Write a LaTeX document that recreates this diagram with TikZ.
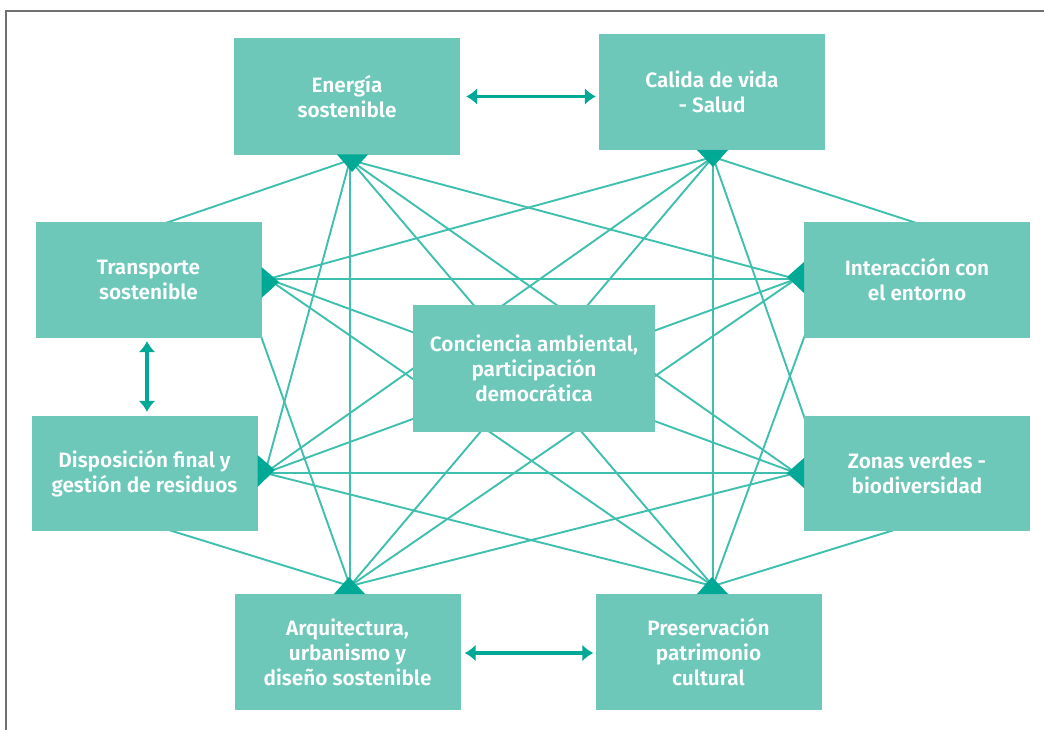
\documentclass[tikz,border=0pt]{standalone}
\usepackage{fontspec}
\setmainfont{Fira Sans SemiBold}
\usetikzlibrary{arrows.meta,calc}
\definecolor{boxc}{HTML}{6DC8BA}
\definecolor{linec}{HTML}{3FBFAD}
\definecolor{darkc}{HTML}{00A896}
\definecolor{framec}{HTML}{707070}
\pgfdeclarelayer{bg}
\pgfsetlayers{bg,main}
\begin{document}
\begin{tikzpicture}[x=1pt,y=-1pt,
  box/.style={fill=boxc, draw=none, text=white, align=center,
    minimum width=226pt, minimum height=116pt, inner sep=0pt,
    font=\fontsize{20.8}{25}\selectfont},
  link/.style={draw=linec, line width=1.9pt},
  tip/.style={fill=darkc, draw=none},
  biarrow/.style={draw=darkc, line width=3.2pt,
    {Latex[length=11pt,width=17pt]}-{Latex[length=11pt,width=17pt]}}]
\useasboundingbox (0,0) rectangle (1044,730);
\draw[framec, line width=1.3pt] (6,730) -- (6,11) -- (1044,11);

% boxes
\node[box, minimum height=117pt] (E) at (347,96.5) {Energía\\sostenible};
\node[box] (C) at (712,92) {Calida de vida\\- Salud};
\node[box] (T) at (148.5,280) {Transporte\\sostenible};
\node[box] (I) at (917,280) {Interacción con\\el entorno};
\node[box, minimum height=115pt] (D) at (144.5,473.5) {Disposición final y\\gestión de residuos};
\node[box, minimum height=115pt] (Z) at (917,473.5) {Zonas verdes -\\biodiversidad};
\node[box] (A) at (347.5,652) {Arquitectura,\\urbanismo y\\diseño sostenible};
\node[box] (P) at (708.5,652) {Preservación\\patrimonio\\cultural};
\node[box, minimum width=242pt, minimum height=127pt] (M) at (534,368.5) {Conciencia ambiental,\\participación\\democrática};

% hubs
\coordinate (Eh) at (350,160);
\coordinate (Ch) at (713,157);
\coordinate (Th) at (268,279);
\coordinate (Ih) at (796,279);
\coordinate (Dh) at (265,473);
\coordinate (Zh) at (796,473);
\coordinate (Ah) at (350,586);
\coordinate (Ph) at (713,586);

\begin{pgfonlayer}{bg}
\draw[link] (Eh) -- ($(T.north)+(12,3)$);
\draw[link] (Eh) -- (Dh);
\draw[link] (Eh) -- (Ah);
\draw[link] (Eh) -- (Ph);
\draw[link] (Eh) -- (Zh);
\draw[link] (Eh) -- (Ih);
\draw[link] (Ch) -- (Th);
\draw[link] (Ch) -- (Dh);
\draw[link] (Ch) -- (Ah);
\draw[link] (Ch) -- (Ph);
\draw[link] (Ch) -- ($(Ch)!1.04!(Z.north west)$);
\draw[link] (Ch) -- ($(I.north)+(5,3)$);
\draw[link] (Th) -- (Ih);
\draw[link] (Th) -- (Zh);
\draw[link] (Th) -- (Ph);
\draw[link] (Ah) -- ($(Ah)!1.04!(T.south east)$);
\draw[link] (Dh) -- (Ih);
\draw[link] (Dh) -- (Zh);
\draw[link] (Dh) -- (Ph);
\draw[link] (Ah) -- ($(D.south)+(18.5,-3)$);
\draw[link] (Ah) -- (Ih);
\draw[link] (Ah) -- (Zh);
\draw[link] (Ph) -- ($(Ph)!1.04!(I.south west)$);
\draw[link] (Ph) -- ($(Z.south)+(-17,-3)$);
\end{pgfonlayer}

% triangle tips
\fill[tip] (337,154.5) -- (368,154.5) -- (352,172) -- cycle;
\fill[tip] (697,150) -- (728,150) -- (713,167) -- cycle;
\fill[tip] (261.5,267) -- (261.5,298) -- (279,282) -- cycle;
\fill[tip] (804,262) -- (804,293) -- (787,277) -- cycle;
\fill[tip] (257.5,455) -- (257.5,487) -- (275,470) -- cycle;
\fill[tip] (804,458) -- (804,488) -- (787,473) -- cycle;
\fill[tip] (334,594) -- (365,594) -- (349,577) -- cycle;
\fill[tip] (697,594) -- (728,594) -- (712,577) -- cycle;

% double arrows
\draw[biarrow] ($(E.east)+(6,0)$) -- ($(C.west |- E.east)+(-3,0)$);
\draw[biarrow] ($(T.south)+(-1.5,3)$) -- ($(D.north)+(2.5,-4)$);
\draw[biarrow] ($(A.east)+(4,1)$) -- ($(P.west)+(-2,1)$);
\end{tikzpicture}
\end{document}
